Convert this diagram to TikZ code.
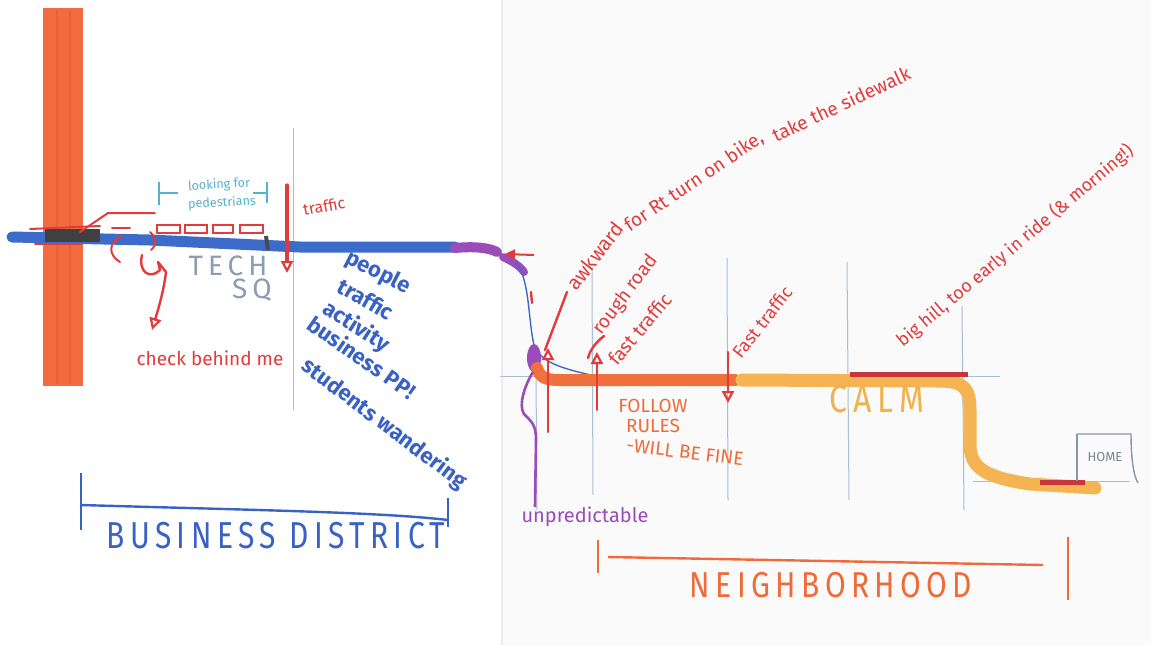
\documentclass[tikz,border=0pt]{standalone}
\usepackage{fontspec}
\setmainfont{Fira Sans}
\newfontfamily\spacedfont[LetterSpace=18]{Fira Sans}
\usetikzlibrary{arrows.meta}
\definecolor{barorange}{HTML}{F26B3F}
\definecolor{barstripe}{HTML}{E8603A}
\definecolor{roadblue}{HTML}{3D6BC9}
\definecolor{textblue}{HTML}{3A62C4}
\definecolor{redpen}{HTML}{E23B3B}
\definecolor{purp}{HTML}{9A4DB8}
\definecolor{routeorange}{HTML}{F2703C}
\definecolor{routeyellow}{HTML}{F4B452}
\definecolor{darkred}{HTML}{C8363C}
\definecolor{tealpen}{HTML}{52B3CC}
\definecolor{techgrey}{HTML}{8C9DB3}
\definecolor{gridline}{HTML}{A9BDD3}
\definecolor{nbhorange}{HTML}{EE6B3A}
\definecolor{calmyellow}{HTML}{F0B24F}
\newcommand{\fsz}[1]{\fontsize{#1}{#1}\selectfont}
\tikzset{
  hand/.style={inner sep=0pt, anchor=center},
  grid line/.style={gridline, line width=0.5pt},
  red pen/.style={redpen, line width=1.2pt, line cap=round, line join=round},
  open head/.style={-{Triangle[open, length=6pt, width=6pt, line width=1.1pt]}},
  blue note/.style={hand, textblue, font=\bfseries\fsz{11}},
}
\begin{document}
\begin{tikzpicture}[x=0.5pt, y=-0.5pt]
\useasboundingbox[fill=white] (0,0) rectangle (1151,645);
% paper right half and seam
\fill[black!2] (502,0) rectangle (1151,645);
\draw[black!8, line width=0.6pt] (502,0) -- (502,645);

% grid lines
\draw[grid line] (293,128) -- (293,410);
\draw[grid line] (592,268) -- (593,495);
\draw[grid line] (727,258) -- (728,500);
\draw[grid line] (847,262) -- (849,500);
\draw[grid line] (962,306) -- (964,510);
\draw[grid line] (536,375) -- (537,510);
\draw[grid line] (500,376) -- (1000,376);
\draw[grid line] (973,481) -- (1130,481);

% orange vertical street
\fill[barorange] (43,8) rectangle (83,386);
\draw[barstripe, line width=0.8pt] (57,10) -- (57,384);
\draw[barstripe, line width=0.8pt] (70,10) -- (70,384);

% blue road
\draw[roadblue, line width=5.5pt, line cap=round] (12,237) -- (150,240) -- (300,247) -- (455,247);
% intersection
\fill[black!75] (45,229) rectangle (100,242);
\draw[red pen, line width=1pt] (30,229) -- (100,226);
\draw[red pen, line width=1pt] (35,244) -- (82,244);
\draw[red pen, line width=1pt] (80,232) -- (108,213) -- (155,213);
\draw[red pen, line width=1pt] (112,228) -- (130,228);
\draw[red pen, line width=1pt] (122,236) .. controls (108,242) and (108,255) .. (120,262);
\draw[red pen, line width=1pt] (150,232) .. controls (157,238) and (157,245) .. (151,250);
% crosswalk boxes
\foreach \a/\b in {157/180,185/207,213/233,240/263}
  \draw[redpen, line width=0.9pt] (\a,225) rectangle (\b,233);
\draw[black!70, line width=2pt] (266,236) -- (268,250);

% looking for pedestrians
\draw[tealpen, line width=0.8pt] (159,182) -- (159,205) (159,193) -- (178,193);
\draw[tealpen, line width=0.8pt] (253,193) -- (267,193) (267,182) -- (267,203);
\node[hand, tealpen, font=\fsz{6.3}, rotate=3] (look) at (219,185) {looking for};
\node[hand, tealpen, font=\fsz{6.3}, rotate=3] (peds) at (222,203) {pedestrians};

% TECH SQ
\node[hand, techgrey, font=\spacedfont\fsz{14}] (tech) at (228,266) {TECH};
\node[hand, techgrey, font=\spacedfont\fsz{14}] (sq) at (252,290) {SQ};

% check behind me arrow
\draw[red pen, open head] (142,255) .. controls (138,272) and (150,280) .. (160,270) -- (158,262) -- (166,272) .. controls (164,290) and (158,310) .. (152,330);
\node[hand, redpen, font=\fsz{9.5}] (check) at (210,358) {check behind me};

% traffic arrow
\draw[red pen, line width=1.6pt, open head] (287,185) -- (287,273);
\node[hand, redpen, font=\fsz{8}, rotate=10] (traf1) at (324,206) {traffic};

% blue diagonal notes
\node[blue note, rotate=-27] (people) at (378,273) {people};
\node[blue note, rotate=-30] (traf2) at (366,299) {traffic};
\node[blue note, rotate=-33] (activity) at (356,327) {activity};
\node[blue note, rotate=-35] (business) at (362,357) {business PP!};
\node[blue note, rotate=-37] (students) at (384,424) {students wandering};

% business district bracket
\draw[textblue, line width=1.2pt] (81,473) -- (81,530);
\draw[textblue, line width=1.2pt] (81,505) .. controls (250,510) and (380,512) .. (448,520);
\draw[textblue, line width=1.2pt] (448,498) -- (448,527);
\node[hand, textblue, font=\spacedfont\fsz{15}, yscale=1.25] (bizd) at (276,536) {BUSINESS DISTRICT};

% purple transition
\draw[purp, line width=5pt, line cap=round] (455,248) .. controls (475,246) and (490,248) .. (497,252);
\draw[purp, line width=4pt, line cap=round] (503,257) .. controls (512,261) and (520,266) .. (524,272);
\draw[roadblue, line width=0.7pt] (516,262) .. controls (530,280) and (528,320) .. (534,345) .. controls (540,362) and (560,368) .. (595,376);
\draw[redpen, line width=1pt, {Triangle[length=5pt, width=5pt]}-] (505,254) -- (534,255);
\draw[red pen] (531,292) -- (532,303);
\fill[purp] (534,358) ellipse [x radius=7, y radius=14];

% routes
\draw[routeorange, line width=6pt, line cap=round] (537,368) .. controls (540,378) and (546,380) .. (560,380) -- (735,380);
\draw[routeyellow, line width=6.5pt, line cap=round] (742,380) -- (940,381) .. controls (965,381) and (970,390) .. (970,410) -- (970,445) .. controls (970,470) and (990,478) .. (1030,484) -- (1095,488);
\draw[darkred, line width=2.5pt] (850,374) -- (968,374);
\draw[darkred, line width=2.5pt] (1040,482) -- (1085,482);

% unpredictable
\draw[purp, line width=1.3pt] (533,372) .. controls (525,385) and (518,405) .. (524,414) .. controls (532,422) and (536,425) .. (536,440) -- (535,507);
\node[hand, purp, font=\fsz{10}] (unpred) at (585,517) {unpredictable};

% red markers near the turn
\draw[red pen, open head] (548,432) -- (548,348);
\draw[red pen, open head] (597,410) -- (597,352);
\draw[red pen] (567,292) -- (545,350);
\draw[red pen] (604,336) .. controls (596,342) and (590,350) .. (588,358);
\node[hand, redpen, font=\fsz{10}, rotate=52] (awk1) at (595,256) {awkward};
\node[hand, redpen, font=\fsz{9.5}, rotate=34] (awk2) at (694,182) {for Rt turn on bike,};
\node[hand, redpen, font=\fsz{9.5}, rotate=25] (awk3) at (841,104) {take the sidewalk};
\node[hand, redpen, font=\fsz{9.5}, rotate=53] (rough) at (626,295) {rough road};
\node[hand, redpen, font=\fsz{9.5}, rotate=50] (fast1) at (640,329) {fast traffic};

% Fast traffic
\draw[red pen, open head] (728,352) -- (728,403);
\node[hand, redpen, font=\fsz{9}, rotate=52] (fast2) at (762,322) {Fast traffic};

% big hill
\node[hand, redpen, font=\fsz{9}, rotate=40] (hill) at (1015,246) {big hill, too early in ride (\& morning!)};

% follow rules
\node[hand, nbhorange, font=\fsz{9.5}] (follow) at (653,406) {FOLLOW};
\node[hand, nbhorange, font=\fsz{9.5}] (rules) at (653,426) {RULES};
\node[hand, nbhorange, font=\fsz{9.5}, rotate=-7] (fine) at (685,452) {-WILL BE FINE};

% calm
\node[hand, calmyellow, font=\spacedfont\fsz{16}, yscale=1.2] (calm) at (877,399) {CALM};

% home
\draw[gridline!80!black, line width=0.7pt] (1077,434) -- (1131,434) .. controls (1131,455) and (1133,475) .. (1138,483);
\draw[gridline!80!black, line width=0.7pt] (1077,434) -- (1077,481);
\node[hand, gridline!70!black, font=\fsz{6.5}] (home) at (1105,457) {HOME};

% neighborhood bracket
\draw[nbhorange, line width=1.2pt] (598,540) -- (598,573);
\draw[nbhorange, line width=1.2pt] (608,557) -- (1043,565);
\draw[nbhorange, line width=1.2pt] (1068,537) -- (1068,600);
\node[hand, nbhorange, font=\spacedfont\fsz{15}, yscale=1.2] (nbh) at (831,585) {NEIGHBORHOOD};
\end{tikzpicture}
\end{document}
